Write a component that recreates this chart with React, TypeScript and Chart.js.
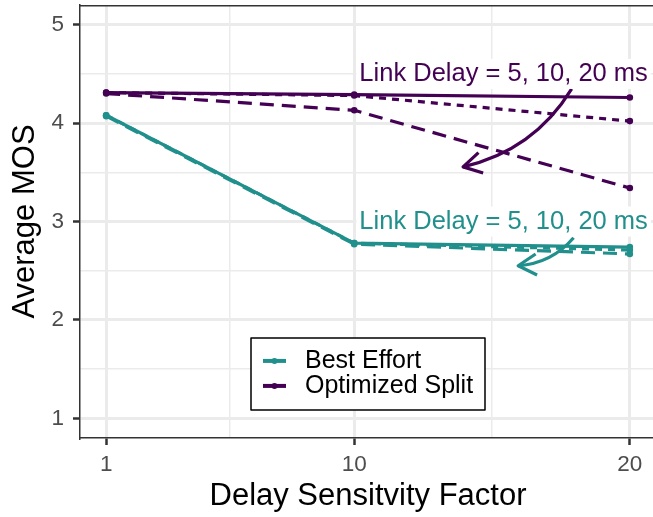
import React, { useEffect, useRef } from "react";
import { Chart, registerables } from "chart.js";

Chart.register(...registerables);

// ---------- data ----------
const xValues = [1, 10, 20];
const bestEffort5ms = [4.08, 2.78, 2.74];
const bestEffort10ms = [4.08, 2.78, 2.71];
const bestEffort20ms = [4.07, 2.77, 2.67];
const optimized5ms = [4.31, 4.29, 4.26];
const optimized10ms = [4.31, 4.28, 4.02];
const optimized20ms = [4.3, 4.13, 3.34];

const seriesNames = ["Best Effort", "Optimized Split"];
const xMajorTicks = [1, 10, 20];
const xMinorTicks = [5.5, 15];
const yMajorTicks = [1, 2, 3, 4, 5];
const yMinorTicks = [1.5, 2.5, 3.5, 4.5];

const annotationText = "Link Delay = 5, 10, 20 ms";
// annotation labels (data coords): [x, y]
const labelOptimized = [15.42, 4.5];
const labelBest = [15.42, 3.0];
// curved arrows (data coords): [x0, y0, x1, y1]
const arrowOptimized = [17.89, 4.347, 13.95, 3.555];
const arrowBest = [17.96, 2.834, 15.95, 2.55];

const TEAL = "#21908C";
const PURPLE = "#440154";
const FONT = "'Liberation Sans', Arial, sans-serif";

function drawCurvedArrow(ctx: CanvasRenderingContext2D, x0: number, y0: number, x1: number, y1: number, curvature: number, color: string) {
  const dx = x1 - x0;
  const dy = y1 - y0;
  const len = Math.hypot(dx, dy);
  const nx = dy / len;
  const ny = -dx / len;
  const h = curvature * len;
  const cx = (x0 + x1) / 2 + nx * h;
  const cy = (y0 + y1) / 2 + ny * h;
  ctx.strokeStyle = color;
  ctx.lineWidth = 3.2;
  ctx.lineCap = "butt";
  ctx.lineJoin = "round";
  ctx.setLineDash([]);
  ctx.beginPath();
  ctx.moveTo(x0, y0);
  ctx.quadraticCurveTo(cx, cy, x1, y1);
  ctx.stroke();
  const ang = Math.atan2(y1 - cy, x1 - cx);
  const L = 21;
  const a = Math.PI / 6;
  ctx.beginPath();
  ctx.moveTo(x1 - L * Math.cos(ang - a), y1 - L * Math.sin(ang - a));
  ctx.lineTo(x1, y1);
  ctx.lineTo(x1 - L * Math.cos(ang + a), y1 - L * Math.sin(ang + a));
  ctx.stroke();
}

function drawLabel(ctx: CanvasRenderingContext2D, px: number, py: number, text: string, color: string) {
  ctx.font = `25.5px ${FONT}`;
  const w = ctx.measureText(text).width;
  ctx.fillStyle = "#ffffff";
  ctx.fillRect(px - w / 2 - 3, py - 15, w + 6, 30);
  ctx.fillStyle = color;
  ctx.textAlign = "center";
  ctx.textBaseline = "middle";
  ctx.fillText(text, px, py);
}

const overlayPlugin = {
  id: "overlay",
  afterDatasetsDraw(chart: any) {
    const { ctx, chartArea, scales } = chart;
    const xs = scales.x;
    const ys = scales.y;
    ctx.save();
    // top & right panel border
    ctx.strokeStyle = "#333333";
    ctx.lineWidth = 1.5;
    ctx.setLineDash([]);
    ctx.beginPath();
    ctx.moveTo(chartArea.left, chartArea.top + 0.75);
    ctx.lineTo(chartArea.right, chartArea.top + 0.75);
    ctx.moveTo(chartArea.right - 0.75, chartArea.top);
    ctx.lineTo(chartArea.right - 0.75, chartArea.bottom);
    ctx.stroke();

    // arrows
    drawCurvedArrow(ctx, xs.getPixelForValue(arrowOptimized[0]), ys.getPixelForValue(arrowOptimized[1]),
      xs.getPixelForValue(arrowOptimized[2]), ys.getPixelForValue(arrowOptimized[3]), 0.21, PURPLE);
    drawCurvedArrow(ctx, xs.getPixelForValue(arrowBest[0]), ys.getPixelForValue(arrowBest[1]),
      xs.getPixelForValue(arrowBest[2]), ys.getPixelForValue(arrowBest[3]), 0.21, TEAL);

    // labels
    drawLabel(ctx, xs.getPixelForValue(labelOptimized[0]), ys.getPixelForValue(labelOptimized[1]), annotationText, PURPLE);
    drawLabel(ctx, xs.getPixelForValue(labelBest[0]), ys.getPixelForValue(labelBest[1]), annotationText, TEAL);

    // legend
    const cxL = (chartArea.left + chartArea.right) / 2;
    const cyL = chartArea.bottom - 0.148 * (chartArea.bottom - chartArea.top);
    const boxW = 234;
    const boxH = 72;
    const bx = cxL - boxW / 2;
    const by = cyL - boxH / 2;
    ctx.fillStyle = "#ffffff";
    ctx.fillRect(bx, by, boxW, boxH);
    ctx.strokeStyle = "#000000";
    ctx.lineWidth = 1.5;
    ctx.strokeRect(bx, by, boxW, boxH);
    const colors = [TEAL, PURPLE];
    seriesNames.forEach((name, i) => {
      const ry = cyL - 13 + i * 25;
      ctx.strokeStyle = colors[i];
      ctx.lineWidth = 4;
      ctx.lineCap = "butt";
      ctx.beginPath();
      ctx.moveTo(bx + 12, ry);
      ctx.lineTo(bx + 35, ry);
      ctx.stroke();
      ctx.fillStyle = colors[i];
      ctx.beginPath();
      ctx.arc(bx + 23.5, ry, 3, 0, Math.PI * 2);
      ctx.fill();
      ctx.fillStyle = "#000000";
      ctx.font = `25px ${FONT}`;
      ctx.textAlign = "left";
      ctx.textBaseline = "middle";
      ctx.fillText(name, bx + 54, ry);
    });
    ctx.restore();
  },
};

function makeDataset(label: string, data: number[], color: string, dash: number[]) {
  return {
    label,
    data: xValues.map((x, i) => ({ x, y: data[i] })),
    borderColor: color,
    backgroundColor: color,
    borderWidth: 3.2,
    borderDash: dash,
    borderCapStyle: "butt" as const,
    borderJoinStyle: "round" as const,
    pointRadius: 3.3,
    pointBorderWidth: 0,
    pointBackgroundColor: color,
    tension: 0,
    fill: false,
  };
}

function zeroPadding(scale: any) {
  scale.paddingTop = 0;
  scale.paddingBottom = 0;
  scale.paddingLeft = 0;
  scale.paddingRight = 0;
}

export default function App() {
  const canvasRef = useRef<HTMLCanvasElement | null>(null);

  useEffect(() => {
    if (!canvasRef.current) return;
    const isMajorX = (v: number) => xMajorTicks.includes(v);
    const isMajorY = (v: number) => yMajorTicks.includes(v);
    const chart = new Chart(canvasRef.current, {
      type: "line",
      data: {
        datasets: [
          makeDataset("Best Effort 20", bestEffort20ms, TEAL, [14, 8]),
          makeDataset("Best Effort 10", bestEffort10ms, TEAL, [7, 6]),
          makeDataset("Best Effort 5", bestEffort5ms, TEAL, []),
          makeDataset("Optimized 20", optimized20ms, PURPLE, [14, 8]),
          makeDataset("Optimized 10", optimized10ms, PURPLE, [7, 6]),
          makeDataset("Optimized 5", optimized5ms, PURPLE, []),
        ],
      },
      options: {
        animation: false,
        responsive: false,
        devicePixelRatio: 1,
        layout: { padding: { top: 5, left: 0, right: 0, bottom: 0 } },
        plugins: {
          legend: { display: false },
          tooltip: { enabled: false },
        },
        scales: {
          x: {
            type: "linear",
            min: 0.05,
            max: 20.95,
            afterBuildTicks: (scale: any) => {
              scale.ticks = [...xMajorTicks, ...xMinorTicks].sort((a, b) => a - b).map((v) => ({ value: v }));
            },
            afterFit: (scale: any) => {
              scale.height = 79;
              zeroPadding(scale);
            },
            ticks: {
              autoSkip: false,
              maxRotation: 0,
              padding: 6,
              color: "#4D4D4D",
              font: { size: 22.5, family: FONT },
              callback: (v: any) => (isMajorX(Number(v)) ? String(v) : ""),
            },
            grid: {
              color: "#EBEBEB",
              lineWidth: (c: any) => (c.tick && isMajorX(c.tick.value) ? 3 : 1.5),
              tickLength: 7,
              tickColor: (c: any) => (c.tick && isMajorX(c.tick.value) ? "#333333" : "rgba(0,0,0,0)"),
              tickWidth: 2.5,
            },
            border: { display: true, color: "#333333", width: 1.5 },
            title: {
              display: true,
              text: "Delay Sensitvity Factor",
              color: "#000000",
              font: { size: 31, family: FONT },
              padding: { top: 0, bottom: 2 },
            },
          },
          y: {
            type: "linear",
            min: 0.8,
            max: 5.2,
            afterBuildTicks: (scale: any) => {
              scale.ticks = [...yMajorTicks, ...yMinorTicks].sort((a, b) => a - b).map((v) => ({ value: v }));
            },
            afterFit: (scale: any) => {
              scale.width = 80;
              zeroPadding(scale);
            },
            ticks: {
              autoSkip: false,
              padding: 9,
              color: "#4D4D4D",
              font: { size: 22.5, family: FONT },
              callback: (v: any) => (isMajorY(Number(v)) ? String(v) : ""),
            },
            grid: {
              color: "#EBEBEB",
              lineWidth: (c: any) => (c.tick && isMajorY(c.tick.value) ? 3 : 1.5),
              tickLength: 7,
              tickColor: (c: any) => (c.tick && isMajorY(c.tick.value) ? "#333333" : "rgba(0,0,0,0)"),
              tickWidth: 2.5,
            },
            border: { display: true, color: "#333333", width: 1.5 },
            title: {
              display: true,
              text: "Average MOS",
              color: "#000000",
              font: { size: 31, family: FONT },
              padding: { top: 7, bottom: 0 },
            },
          },
        },
      },
      plugins: [overlayPlugin],
    } as any);
    return () => chart.destroy();
  }, []);

  return (
    <div
      style={{
        position: "absolute",
        left: 0,
        top: 0,
        width: 653,
        height: 517,
        overflow: "hidden",
        background: "#ffffff",
      }}
    >
      <canvas ref={canvasRef} width={660} height={517} style={{ width: 660, height: 517, display: "block" }} />
    </div>
  );
}
